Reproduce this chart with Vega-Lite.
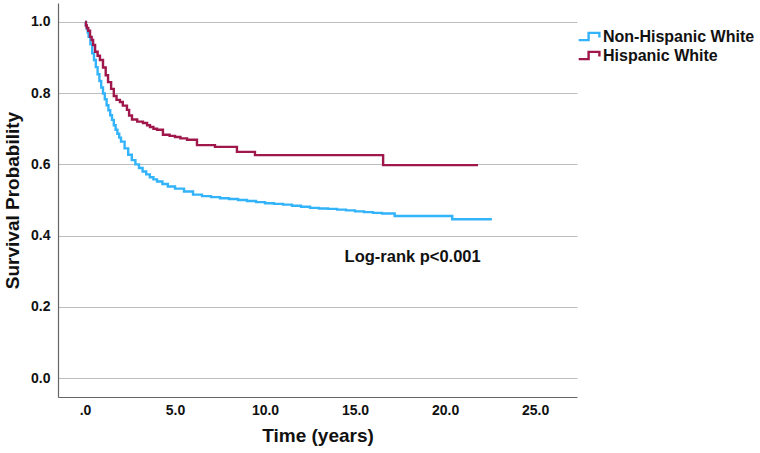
{
  "$schema": "https://vega.github.io/schema/vega-lite/v6.json",
  "autosize": "none",
  "width": 519,
  "height": 394,
  "padding": {"left": 58, "top": 3, "right": 183, "bottom": 56},
  "background": "white",
  "config": {
    "view": {"stroke": null},
    "font": "Liberation Sans",
    "axis": {
      "labelFont": "Liberation Sans",
      "labelFontWeight": "bold",
      "labelFontSize": 14,
      "labelColor": "#111",
      "titleFont": "Liberation Sans",
      "titleFontWeight": "bold",
      "titleFontSize": 19,
      "titleColor": "#111",
      "domainColor": "#666",
      "domainWidth": 1.2,
      "ticks": false
    }
  },
  "data": {
    "values": [
      {"group": "Non-Hispanic White", "t": 0.0, "S": 1.0},
      {"group": "Non-Hispanic White", "t": 0.05, "S": 0.99},
      {"group": "Non-Hispanic White", "t": 0.1, "S": 0.98},
      {"group": "Non-Hispanic White", "t": 0.15, "S": 0.97},
      {"group": "Non-Hispanic White", "t": 0.2, "S": 0.958},
      {"group": "Non-Hispanic White", "t": 0.3, "S": 0.937},
      {"group": "Non-Hispanic White", "t": 0.4, "S": 0.912},
      {"group": "Non-Hispanic White", "t": 0.5, "S": 0.893},
      {"group": "Non-Hispanic White", "t": 0.6, "S": 0.873},
      {"group": "Non-Hispanic White", "t": 0.7, "S": 0.853},
      {"group": "Non-Hispanic White", "t": 0.8, "S": 0.834},
      {"group": "Non-Hispanic White", "t": 0.9, "S": 0.816},
      {"group": "Non-Hispanic White", "t": 1.0, "S": 0.799},
      {"group": "Non-Hispanic White", "t": 1.1, "S": 0.783},
      {"group": "Non-Hispanic White", "t": 1.2, "S": 0.766},
      {"group": "Non-Hispanic White", "t": 1.3, "S": 0.752},
      {"group": "Non-Hispanic White", "t": 1.4, "S": 0.738},
      {"group": "Non-Hispanic White", "t": 1.5, "S": 0.725},
      {"group": "Non-Hispanic White", "t": 1.6, "S": 0.71},
      {"group": "Non-Hispanic White", "t": 1.7, "S": 0.697},
      {"group": "Non-Hispanic White", "t": 1.8, "S": 0.686},
      {"group": "Non-Hispanic White", "t": 1.9, "S": 0.675},
      {"group": "Non-Hispanic White", "t": 2.0, "S": 0.664},
      {"group": "Non-Hispanic White", "t": 2.2, "S": 0.645},
      {"group": "Non-Hispanic White", "t": 2.4, "S": 0.627},
      {"group": "Non-Hispanic White", "t": 2.6, "S": 0.612},
      {"group": "Non-Hispanic White", "t": 2.8, "S": 0.6},
      {"group": "Non-Hispanic White", "t": 3.0, "S": 0.59},
      {"group": "Non-Hispanic White", "t": 3.2, "S": 0.58},
      {"group": "Non-Hispanic White", "t": 3.4, "S": 0.572},
      {"group": "Non-Hispanic White", "t": 3.6, "S": 0.564},
      {"group": "Non-Hispanic White", "t": 3.8, "S": 0.558},
      {"group": "Non-Hispanic White", "t": 4.0, "S": 0.552},
      {"group": "Non-Hispanic White", "t": 4.3, "S": 0.545},
      {"group": "Non-Hispanic White", "t": 4.6, "S": 0.538},
      {"group": "Non-Hispanic White", "t": 5.0, "S": 0.532},
      {"group": "Non-Hispanic White", "t": 5.5, "S": 0.524},
      {"group": "Non-Hispanic White", "t": 6.0, "S": 0.515},
      {"group": "Non-Hispanic White", "t": 6.5, "S": 0.511},
      {"group": "Non-Hispanic White", "t": 7.0, "S": 0.508},
      {"group": "Non-Hispanic White", "t": 7.5, "S": 0.505},
      {"group": "Non-Hispanic White", "t": 8.0, "S": 0.503},
      {"group": "Non-Hispanic White", "t": 8.5, "S": 0.5},
      {"group": "Non-Hispanic White", "t": 9.0, "S": 0.497},
      {"group": "Non-Hispanic White", "t": 9.5, "S": 0.494},
      {"group": "Non-Hispanic White", "t": 10.0, "S": 0.491},
      {"group": "Non-Hispanic White", "t": 10.5, "S": 0.489},
      {"group": "Non-Hispanic White", "t": 11.0, "S": 0.487},
      {"group": "Non-Hispanic White", "t": 11.5, "S": 0.484},
      {"group": "Non-Hispanic White", "t": 12.0, "S": 0.481},
      {"group": "Non-Hispanic White", "t": 12.5, "S": 0.478},
      {"group": "Non-Hispanic White", "t": 13.0, "S": 0.476},
      {"group": "Non-Hispanic White", "t": 13.5, "S": 0.475},
      {"group": "Non-Hispanic White", "t": 14.0, "S": 0.473},
      {"group": "Non-Hispanic White", "t": 14.5, "S": 0.471},
      {"group": "Non-Hispanic White", "t": 15.0, "S": 0.468},
      {"group": "Non-Hispanic White", "t": 15.5, "S": 0.466},
      {"group": "Non-Hispanic White", "t": 16.0, "S": 0.464},
      {"group": "Non-Hispanic White", "t": 16.5, "S": 0.462},
      {"group": "Non-Hispanic White", "t": 17.2, "S": 0.455},
      {"group": "Non-Hispanic White", "t": 20.4, "S": 0.446},
      {"group": "Non-Hispanic White", "t": 22.6, "S": 0.446},
      {"group": "Hispanic White", "t": 0.0, "S": 1.0},
      {"group": "Hispanic White", "t": 0.05, "S": 0.99},
      {"group": "Hispanic White", "t": 0.1, "S": 0.983},
      {"group": "Hispanic White", "t": 0.18, "S": 0.975},
      {"group": "Hispanic White", "t": 0.28, "S": 0.958},
      {"group": "Hispanic White", "t": 0.37, "S": 0.949},
      {"group": "Hispanic White", "t": 0.45, "S": 0.935},
      {"group": "Hispanic White", "t": 0.56, "S": 0.916},
      {"group": "Hispanic White", "t": 0.7, "S": 0.905},
      {"group": "Hispanic White", "t": 0.83, "S": 0.893},
      {"group": "Hispanic White", "t": 1.0, "S": 0.872},
      {"group": "Hispanic White", "t": 1.15, "S": 0.85},
      {"group": "Hispanic White", "t": 1.28, "S": 0.831},
      {"group": "Hispanic White", "t": 1.45, "S": 0.812},
      {"group": "Hispanic White", "t": 1.6, "S": 0.792},
      {"group": "Hispanic White", "t": 1.75, "S": 0.781},
      {"group": "Hispanic White", "t": 1.94, "S": 0.775},
      {"group": "Hispanic White", "t": 2.1, "S": 0.765},
      {"group": "Hispanic White", "t": 2.33, "S": 0.753},
      {"group": "Hispanic White", "t": 2.45, "S": 0.737},
      {"group": "Hispanic White", "t": 2.61, "S": 0.726},
      {"group": "Hispanic White", "t": 2.9, "S": 0.72},
      {"group": "Hispanic White", "t": 3.22, "S": 0.716},
      {"group": "Hispanic White", "t": 3.45, "S": 0.71},
      {"group": "Hispanic White", "t": 3.61, "S": 0.705},
      {"group": "Hispanic White", "t": 3.8, "S": 0.7},
      {"group": "Hispanic White", "t": 4.0, "S": 0.697},
      {"group": "Hispanic White", "t": 4.33, "S": 0.683},
      {"group": "Hispanic White", "t": 4.7, "S": 0.68},
      {"group": "Hispanic White", "t": 5.0, "S": 0.677},
      {"group": "Hispanic White", "t": 5.3, "S": 0.673},
      {"group": "Hispanic White", "t": 5.67, "S": 0.669},
      {"group": "Hispanic White", "t": 6.22, "S": 0.654},
      {"group": "Hispanic White", "t": 7.22, "S": 0.649},
      {"group": "Hispanic White", "t": 8.44, "S": 0.635},
      {"group": "Hispanic White", "t": 9.44, "S": 0.626},
      {"group": "Hispanic White", "t": 16.56, "S": 0.598},
      {"group": "Hispanic White", "t": 21.83, "S": 0.598}
    ]
  },
  "layer": [
    {
      "mark": {"type": "line", "interpolate": "step-after", "strokeWidth": 2.4},
      "encoding": {
        "x": {
          "field": "t",
          "type": "quantitative",
          "title": "Time (years)",
          "scale": {"domain": [-1.5, 27.33], "nice": false, "zero": false},
          "axis": {
            "values": [0, 5, 10, 15, 20, 25],
            "labelExpr": "datum.value == 0 ? '.0' : format(datum.value, '.1f')",
            "grid": false,
            "labelPadding": 6,
            "titlePadding": 9
          }
        },
        "y": {
          "field": "S",
          "type": "quantitative",
          "title": "Survival Probability",
          "scale": {"domain": [-0.053, 1.053], "nice": false, "zero": false},
          "axis": {
            "values": [0, 0.2, 0.4, 0.6, 0.8, 1.0],
            "format": ".1f",
            "grid": true,
            "gridColor": "#bdbdbd",
            "gridWidth": 1.2,
            "labelPadding": 8,
            "titlePadding": 8
          }
        },
        "color": {
          "field": "group",
          "type": "nominal",
          "title": null,
          "scale": {
            "domain": ["Non-Hispanic White", "Hispanic White"],
            "range": ["#33b3fa", "#a0174b"]
          },
          "legend": {
            "orient": "none",
            "legendX": 521,
            "legendY": 23,
            "symbolType": "M-1.2,0.4H-0.1V-0.4H1.1V0.1",
            "symbolSize": 324,
            "symbolStrokeWidth": 2.4,
            "labelFont": "Liberation Sans",
            "labelFontWeight": "bold",
            "labelFontSize": 16,
            "labelColor": "#111",
            "labelOffset": 3,
            "rowPadding": 0
          }
        }
      }
    },
    {
      "data": {"values": [{"t": 18.2, "S": 0.34, "label": "Log-rank p<0.001"}]},
      "mark": {"type": "text", "font": "Liberation Sans", "fontWeight": "bold", "fontSize": 16.5, "color": "#111", "align": "center", "baseline": "middle"},
      "encoding": {
        "x": {"field": "t", "type": "quantitative"},
        "y": {"field": "S", "type": "quantitative"},
        "text": {"field": "label"}
      }
    }
  ]
}
